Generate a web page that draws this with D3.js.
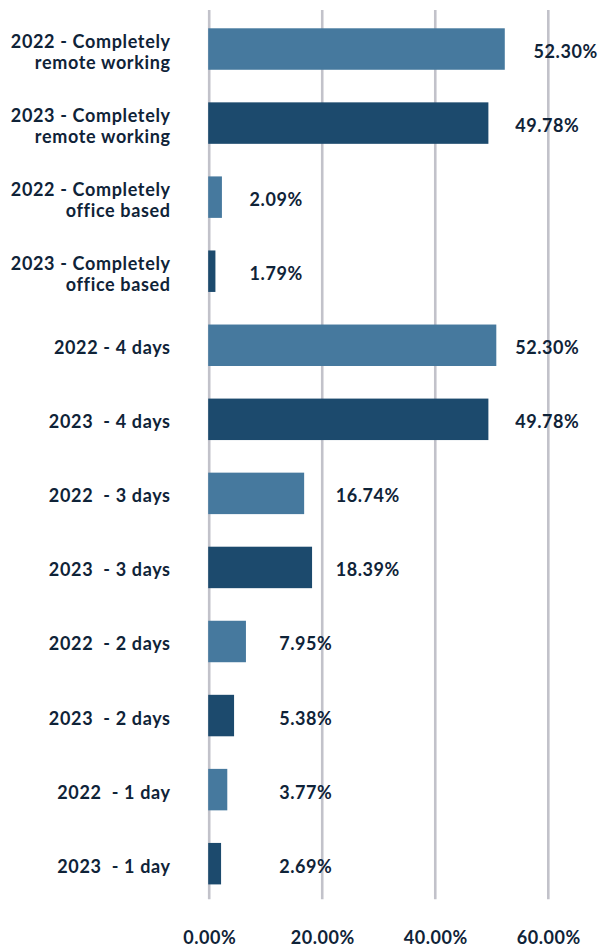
<!DOCTYPE html>
<html>
<head>
<meta charset="utf-8">
<script src="https://cdn.jsdelivr.net/npm/d3@7"></script>
<style>
  html, body { margin: 0; padding: 0; background: #ffffff; }
  svg { display: block; }
  text { font-family: Lato, "Open Sans", sans-serif; font-weight: 700; fill: #0f2338; white-space: pre; }
</style>
</head>
<body>
<svg id="chart" width="607" height="946"></svg>
<script>
// ---- data ----
const categories = [
  ["2022 - Completely", "remote working"],
  ["2023 - Completely", "remote working"],
  ["2022 - Completely", "office based"],
  ["2023 - Completely", "office based"],
  ["2022 - 4 days"],
  ["2023  - 4 days"],
  ["2022  - 3 days"],
  ["2023  - 3 days"],
  ["2022  - 2 days"],
  ["2023  - 2 days"],
  ["2022  - 1 day"],
  ["2023  - 1 day"]
];
const years = ["2022", "2023", "2022", "2023", "2022", "2023", "2022", "2023", "2022", "2023", "2022", "2023"];
// bar lengths as drawn (percent)
const values = [52.3, 49.4, 2.25, 1.1, 50.8, 49.4, 16.8, 18.2, 6.5, 4.4, 3.2, 2.1];
// value labels as printed
const valueLabels = ["52.30%", "49.78%", "2.09%", "1.79%", "52.30%", "49.78%", "16.74%", "18.39%", "7.95%", "5.38%", "3.77%", "2.69%"];
// where each value label starts (percent units on the axis)
const labelAnchors = [57.4, 54.15, 7.15, 7.15, 54.15, 54.15, 22.4, 22.4, 12.4, 12.4, 12.4, 12.4];
const ticks = [0, 20, 40, 60];
const tickLabels = ["0.00%", "20.00%", "40.00%", "60.00%"];

// ---- scales ----
const svg = d3.select("#chart");
const x = d3.scaleLinear().domain([0, 60]).range([209.2, 548.3]);
const y = d3.scaleBand().domain(d3.range(categories.length)).range([12, 900.7])
  .paddingInner(0.44).paddingOuter(0.22);
const color = d3.scaleOrdinal().domain(["2022", "2023"]).range(["#46799e", "#1c4a6d"]);

// gridlines
svg.append("g").selectAll("line").data(ticks).join("line")
  .attr("x1", d => x(d)).attr("x2", d => x(d))
  .attr("y1", 10).attr("y2", 899.3)
  .attr("stroke", "#c2c2ca").attr("stroke-width", 2.6);

// bars
svg.append("g").selectAll("rect").data(values).join("rect")
  .attr("x", x(0) - 1)
  .attr("y", (d, i) => y(i))
  .attr("width", d => x(d) - x(0) + 1)
  .attr("height", y.bandwidth())
  .attr("fill", (d, i) => color(years[i]));

// value labels
svg.append("g").selectAll("text").data(valueLabels).join("text")
  .attr("x", (d, i) => x(labelAnchors[i]))
  .attr("y", (d, i) => y(i) + y.bandwidth() / 2 + 9)
  .attr("font-size", 18)
  .attr("letter-spacing", 0.55)
  .text(d => d);

// category labels
const cat = svg.append("g").selectAll("text").data(categories).join("text")
  .attr("text-anchor", "end")
  .attr("font-size", 18)
  .attr("letter-spacing", 0.65)
  .attr("x", x(0) - 38.5)
  .attr("y", (d, i) => y(i) + y.bandwidth() / 2 + 9 - (d.length - 1) * 10.5);
cat.selectAll("tspan").data(d => d).join("tspan")
  .attr("x", x(0) - 38.5)
  .attr("dy", (d, j) => j === 0 ? 0 : 21)
  .text(d => d);

// x-axis tick labels
const axis = d3.axisBottom(x).tickValues(ticks).tickFormat((d, i) => tickLabels[i]).tickSize(0).tickPadding(0);
const ag = svg.append("g").attr("transform", "translate(0,931)").call(axis);
ag.select(".domain").remove();
ag.selectAll("text").attr("font-size", 18).attr("letter-spacing", 0.55)
  .attr("font-family", null).attr("fill", null).attr("dy", "0.72em");
</script>
</body>
</html>
